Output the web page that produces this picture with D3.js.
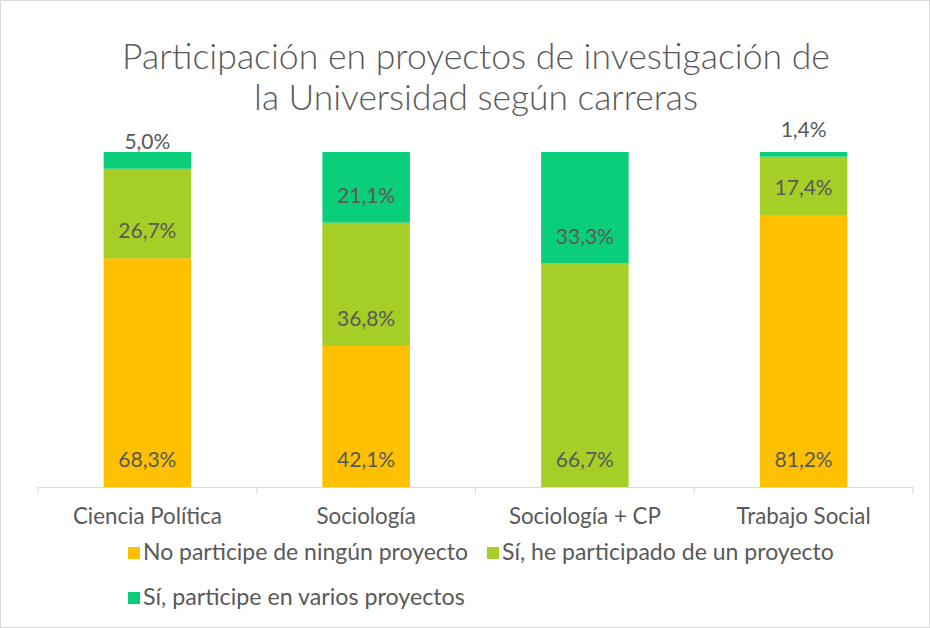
<!DOCTYPE html>
<html><head><meta charset="utf-8">
<script src="https://cdn.jsdelivr.net/npm/d3@7"></script>
<style>
html,body{margin:0;padding:0;background:#fff;}
svg{display:block;font-family:Lato,"Open Sans",sans-serif;}
</style></head>
<body>
<svg id="chart" width="930" height="628"></svg>
<script>
const categories = ["Ciencia Política", "Sociología", "Sociología + CP", "Trabajo Social"];
const seriesNames = ["No participe de ningún proyecto", "Sí, he participado de un proyecto", "Sí, participe en varios proyectos"];
const noParticipe = [68.3, 42.1, 0, 81.2];
const unProyecto = [26.7, 36.8, 66.7, 17.4];
const variosProyectos = [5.0, 21.1, 33.3, 1.4];
const colors = ["#FFC000", "#A5CF26", "#0BCE7A"];
const titleLines = ["Participación en proyectos de investigación de", "la Universidad según carreras"];

const svg = d3.select("#chart");
const textColor = "#595959";

svg.append("rect").attr("x",0.5).attr("y",0.5).attr("width",929).attr("height",627)
  .attr("fill","#fff").attr("stroke","#d9d9d9").attr("stroke-width",1);

const x = d3.scaleBand().domain(categories).range([38, 913]).paddingInner(0).paddingOuter(0);
const y = d3.scaleLinear().domain([0, 100]).range([487, 152]);

const table = categories.map((c,i)=>({cat:c, s0:noParticipe[i], s1:unProyecto[i], s2:variosProyectos[i]}));
const stack = d3.stack().keys(["s0","s1","s2"]);
const layers = stack(table);

const barW = x.bandwidth()*0.4;

function fit(sel, target){
  const n = sel.node();
  const w = n.getComputedTextLength();
  const fs = parseFloat(sel.attr("font-size"));
  sel.attr("font-size", fs*target/w);
  return target/w;
}

// bars
layers.forEach((layer, li)=>{
  svg.append("g").selectAll("rect").data(layer).join("rect")
    .attr("x", d=>x(d.data.cat)+x.bandwidth()/2-barW/2)
    .attr("width", barW)
    .attr("y", d=>y(d[1]))
    .attr("height", d=>y(d[0])-y(d[1]))
    .attr("fill", colors[li]);
});

// labels
layers.forEach((layer, li)=>{
  svg.append("g").selectAll("text").data(layer.filter(d=>d[1]-d[0]>0)).join("text")
    .attr("x", d=>x(d.data.cat)+x.bandwidth()/2)
    .attr("y", d=>y(d[0])-20)
    .attr("text-anchor","middle")
    .attr("font-size",21)
    .attr("fill",textColor)
    .text(d=>d3.format(".1f")(d[1]-d[0]).replace(".",",")+"%");
});

// axis
const axis = d3.axisBottom(x).tickSize(0).tickPadding(0);
const gx = svg.append("g").attr("transform","translate(0,487)").call(axis);
gx.select(".domain").attr("stroke","#d9d9d9").attr("stroke-width",1);
gx.selectAll(".tick text").remove();
const edges = [38].concat(categories.map(c=>x(c)+x.bandwidth()));
svg.append("g").selectAll("line").data(edges).join("line")
  .attr("x1",d=>d).attr("x2",d=>d).attr("y1",487).attr("y2",494)
  .attr("stroke","#d9d9d9");
const catLabels = svg.append("g").selectAll("text").data(categories).join("text")
  .attr("x",d=>x(d)+x.bandwidth()/2).attr("y",524)
  .attr("text-anchor","middle").attr("font-size",20).attr("fill",textColor)
  .text(d=>d);
const k = 149 / catLabels.filter((d,i)=>i===0).node().getComputedTextLength();
catLabels.attr("font-size", 20*k);

// title
const tw = [708, 444];
titleLines.forEach((t,i)=>{
  const tt = svg.append("text").attr("x",476).attr("y",[69,110][i])
    .attr("text-anchor","middle").attr("font-size",32).attr("fill",textColor).attr("font-weight",300).text(t);
  fit(tt, tw[i]);
});

// legend
const legendPos = [[128,553,325],[487,553,332],[128,598,322]];
seriesNames.forEach((s,i)=>{
  const [lx,ly,lw] = legendPos[i];
  svg.append("rect").attr("x",lx).attr("y",ly-6).attr("width",12).attr("height",12).attr("fill",colors[i]);
  const t = svg.append("text").attr("x",lx+15).attr("y",ly+7).attr("font-size",20).attr("fill",textColor).text(s);
  fit(t, lw);
});
</script>
</body></html>
